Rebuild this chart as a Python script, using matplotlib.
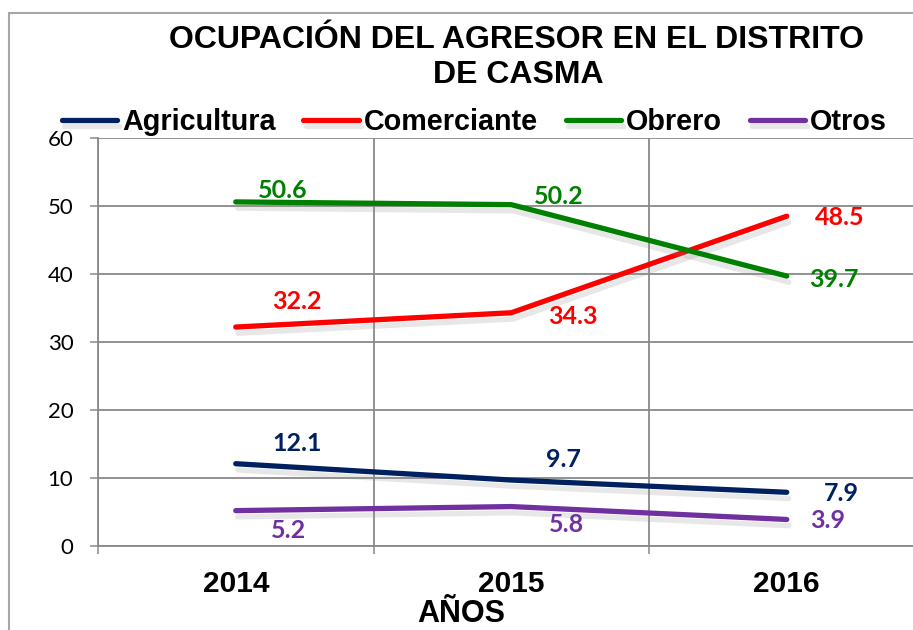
import matplotlib
matplotlib.use("Agg")
import matplotlib.pyplot as plt
import matplotlib.patheffects as pe
from matplotlib.patches import Rectangle

# data
years = ["2014", "2015", "2016"]
agricultura = [12.1, 9.7, 7.9]
comerciante = [32.2, 34.3, 48.5]
obrero = [50.6, 50.2, 39.7]
otros = [5.2, 5.8, 3.9]

series_names = ["Agricultura", "Comerciante", "Obrero", "Otros"]
series_values = [agricultura, comerciante, obrero, otros]
series_colors = ["#002060", "#FF0000", "#008000", "#7030A0"]

# label offsets in pixels (dx, dy of the visual centre) for each point
label_offsets = [
    [(61, 21), (52, 22), (55, 0)],
    [(61, 27), (62, -3), (53, 0)],
    [(47, 12), (47, 9), (47, -2)],
    [(53, -19), (55, -17), (41, 0)],
]

W, H = 913, 630
fig = plt.figure(figsize=(W / 100, H / 100), dpi=100)

# outer chart border (cropped on the right and bottom)
fig.patches.append(Rectangle((9 / W, -0.1), 1.2, 1 - 13 / H + 0.1,
                             transform=fig.transFigure, fill=False,
                             edgecolor="#a6a6a6", lw=1.5))

ax = fig.add_axes([98 / W, 1 - 546 / H, 3 * 275.5 / W, 408 / H])

xs = [i + 0.5 for i in range(len(years))]
grid_col = "#898989"

handles = []
for name, vals, col, offs in zip(series_names, series_values, series_colors, label_offsets):
    ln, = ax.plot(xs, vals, color=col, lw=3.8, solid_capstyle="round",
                  solid_joinstyle="round", label=name, zorder=3,
                  path_effects=[pe.SimpleLineShadow(offset=(1.5, -4.5), shadow_color="#8a8a8a",
                                                    alpha=0.2),
                                pe.Normal()])
    handles.append(ln)
    for x, v, (dx, dy) in zip(xs, vals, offs):
        ax.annotate(f"{v}", (x, v), xytext=(dx, dy - 8.5), textcoords="offset pixels",
                    ha="center", va="baseline", color=col, fontsize=18,
                    fontweight="bold", family="Lato", zorder=4)

ax.set_xlim(0, 3)
ax.set_ylim(0, 60)
ax.set_yticks(range(0, 61, 10))
ax.set_xticks([0, 1, 2, 3])
ax.set_xticklabels([])
ax.set_xticks(xs, minor=True)
ax.set_xticklabels(years, minor=True, fontsize=21.5, fontweight="bold",
                   family="Liberation Sans")
ax.tick_params(axis="x", which="minor", length=0, pad=17)
ax.tick_params(axis="x", which="major", length=5.8, width=1.1, color=grid_col)
ax.tick_params(axis="y", length=5.8, width=1.1, color=grid_col, pad=12, labelsize=16)
for lab in ax.get_yticklabels():
    lab.set_family("Lato")

ax.grid(True, which="major", color=grid_col, lw=1.3)
ax.set_axisbelow(True)
for s in ["top", "right"]:
    ax.spines[s].set_visible(False)
for s in ["left", "bottom"]:
    ax.spines[s].set_color(grid_col)
    ax.spines[s].set_linewidth(1.3)

# title and axis label
fig.text(516 / W, 1 - 48 / H, "OCUPACIÓN DEL AGRESOR EN EL DISTRITO", ha="center",
         va="baseline", fontsize=23, fontweight="bold", family="Liberation Sans")
fig.text(518 / W, 1 - 83 / H, "DE CASMA", ha="center", va="baseline",
         fontsize=23, fontweight="bold", family="Liberation Sans")
fig.text(461 / W, 1 / H, "AÑOS", ha="center", va="bottom",
         fontsize=22, fontweight="bold", family="Liberation Sans")

fig.legend(handles=handles, loc="center left", bbox_to_anchor=(62 / W, 1 - 122 / H),
           ncol=4, frameon=False, borderpad=0, borderaxespad=0,
           handlelength=1.92, handletextpad=0.18, columnspacing=0.96,
           prop={"family": "Liberation Sans", "weight": "bold", "size": 20.7})

fig.savefig("out.png", dpi=100)
